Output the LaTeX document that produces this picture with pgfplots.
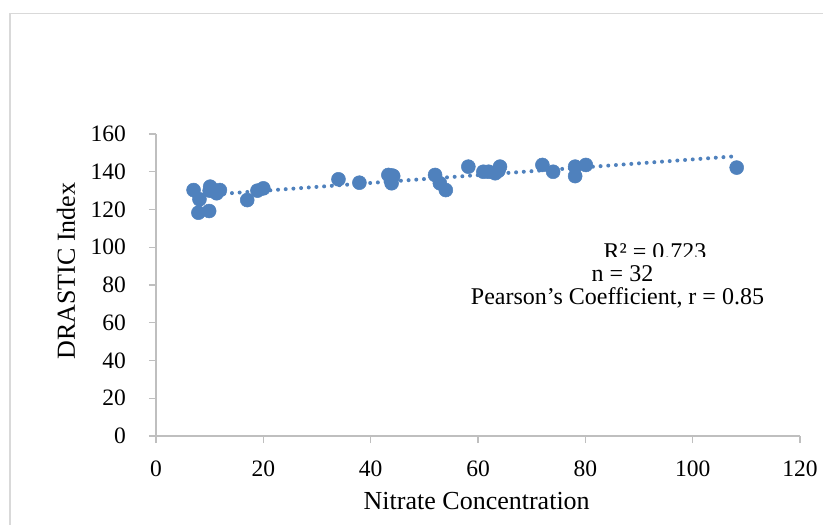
\documentclass[border=0pt]{standalone}
\usepackage{fontspec}
\setmainfont{Liberation Serif}
\usepackage{pgfplots}
\pgfplotsset{compat=1.18}

\definecolor{xlblue}{HTML}{4F81BD}
\definecolor{axgray}{HTML}{BFBFBF}
\definecolor{framegray}{HTML}{D9D9D9}

\begin{document}
\begin{tikzpicture}[x=1pt,y=1pt]
	\path[use as bounding box] (0,0) rectangle (823,525);
	% outer chart frame
	\draw[framegray, line width=1.5pt] (10,-2) -- (10,511.7) -- (825,511.7);

	\begin{axis}[at={(156pt,89pt)}, anchor=south west,
		width=644pt, height=302pt, scale only axis,
		xmin=0, xmax=120, ymin=0, ymax=160,
		xtick={0,20,...,120}, ytick={0,20,...,160},
		axis x line*=bottom, axis y line*=left,
		axis line style={axgray, line width=1.3pt, -},
		tick style={axgray, line width=1.3pt},
		tick align=outside, major tick length=7pt,
		tick label style={font=\fontsize{23.5}{28}\selectfont, black},
		xticklabel style={anchor=north, inner sep=0pt, yshift=-18pt},
		yticklabel style={anchor=east, inner sep=0pt, xshift=-23pt},
		/pgf/number format/assume math mode=true,
		xlabel={Nitrate Concentration},
		ylabel={DRASTIC Index},
		label style={font=\fontsize{26}{30}\selectfont},
		xlabel style={at={(axis description cs:0.498,-0.245)}, anchor=base},
		ylabel style={at={(axis description cs:-0.1258,0.546)}, anchor=base},
		clip=false]

		% linear trendline
		\addplot [xlblue, line width=4pt, line cap=round, dash pattern=on 0pt off 7.7pt]
		coordinates{
		(7, 127.2)
		(108, 148.2)
	};

		\addplot [only marks, mark=*, mark size=7pt, color=xlblue, mark options={fill=xlblue, draw=xlblue, line width=0.5pt}]
		coordinates{
		(7, 130.3)
		(8.1, 125.4)
		(7.9, 118.3)
		(10.1, 132.1)
		(9.9, 119.2)
		(11.3, 128.6)
		(11.9, 130.3)
		(10, 130)
		(17, 125)
		(18.9, 130)
		(20, 131.2)
		(34, 136)
		(37.9, 134.2)
		(43.3, 138.3)
		(44.2, 137.7)
		(43.9, 133.9)
		(44, 138)
		(52, 138.3)
		(52.9, 133.9)
		(54, 130.3)
		(58.2, 142.7)
		(61, 140)
		(62, 140)
		(63.2, 139.2)
		(64.1, 142.7)
		(72, 143.6)
		(74, 140)
		(78.1, 142.7)
		(78.1, 137.7)
		(80.1, 143.6)
		(108.2, 142.2)
		(63.8, 140.5)
	};
	\end{axis}

	% fit statistics
	\begin{scope}
		\clip (500,268) rectangle (800,300);
		\node[anchor=base, font=\fontsize{24}{28}\selectfont, inner sep=0pt] at (655,265) {R² = 0.723};
	\end{scope}
	\node[anchor=base, font=\fontsize{24}{28}\selectfont, inner sep=0pt] at (622.5,243) {n = 32};
	\node[anchor=base, font=\fontsize{24}{28}\selectfont, inner sep=0pt] at (617.5,220) {Pearson’s Coefficient, r = 0.85};
\end{tikzpicture}
\end{document}
